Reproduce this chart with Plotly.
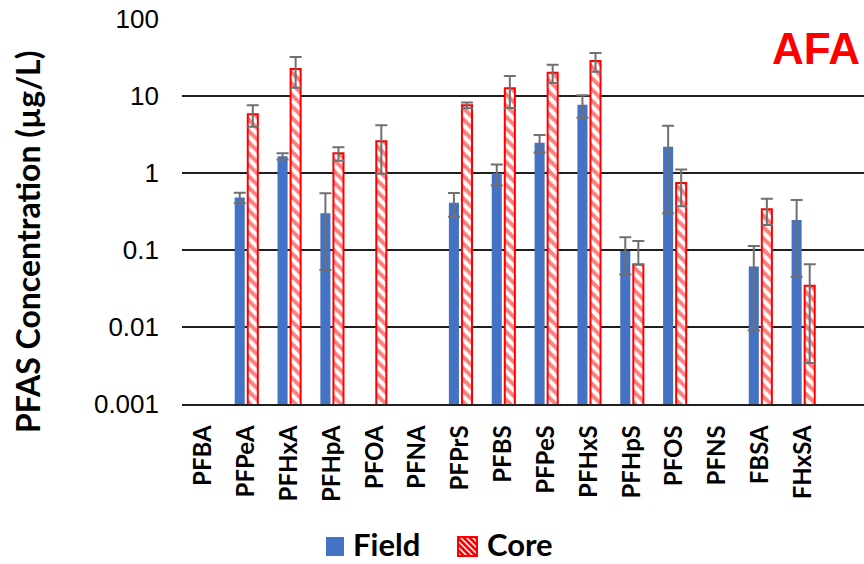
import plotly.graph_objects as go

# PFAS analytes on the x axis
categories = ["PFBA", "PFPeA", "PFHxA", "PFHpA", "PFOA", "PFNA", "PFPrS", "PFBS",
              "PFPeS", "PFHxS", "PFHpS", "PFOS", "PFNS", "FBSA", "FHxSA"]

# Mean concentrations (µg/L) and standard deviations; None = not detected
field = [None, 0.48, 1.65, 0.30, None, None, 0.41, 0.99, 2.48, 7.7, 0.097, 2.2, None, 0.061, 0.245]
field_sd = [None, 0.075, 0.155, 0.245, None, None, 0.14, 0.30, 0.64, 2.5, 0.049, 1.9, None, 0.052, 0.20]

core = [None, 5.8, 22.4, 1.8, 2.58, None, 7.6, 12.6, 20.1, 28.5, 0.065, 0.74, None, 0.337, 0.0344]
core_sd = [None, 1.8, 9.6, 0.36, 1.6, None, 0.65, 5.6, 5.4, 7.8, 0.066, 0.37, None, 0.126, 0.031]

y_ticks = [0.001, 0.01, 0.1, 1, 10, 100]
y_tick_text = ["0.001", "0.01", "0.1", "1", "10", "100"]

FIELD_BLUE = "#4472C4"
CORE_RED = "#FF0000"

# figure geometry (pixels)
W, H = 864, 564
L, R, T, B = 182, 0, 19, 160
PW, PH = W - L - R, H - T - B


def px(x):
    return (x - L) / PW


def py(y):
    return (H - B - y) / PH


def lower_err(vals, sds):
    # on a log axis the minus bar is dropped when it would reach zero or below
    out = []
    for v, s in zip(vals, sds):
        if v is None:
            out.append(None)
        elif s >= v:
            out.append(0)
        else:
            out.append(s)
    return out


err_style = dict(type="data", color="#707070", thickness=2, width=6)

fig = go.Figure()
fig.add_trace(go.Bar(
    name="Field", x=categories, y=field,
    marker=dict(color=FIELD_BLUE, line=dict(width=0)),
    error_y=dict(array=field_sd, arrayminus=lower_err(field, field_sd), **err_style),
))
fig.add_trace(go.Bar(
    name="Core", x=categories, y=core,
    marker=dict(color="white", line=dict(color=CORE_RED, width=2),
                pattern=dict(shape="\\", fgcolor=CORE_RED, bgcolor="white",
                             size=8, solidity=0.5)),
    error_y=dict(array=core_sd, arrayminus=lower_err(core, core_sd), **err_style),
))

# legend drawn as shapes + text below the plot
shapes = []
annotations = []
legend_font = dict(family="Lato", size=31, weight="bold", color="black")

fx0, fy0, fx1, fy1 = 326, 537, 344, 556
shapes.append(dict(type="rect", xref="paper", yref="paper",
                   x0=px(fx0), x1=px(fx1), y0=py(fy1), y1=py(fy0),
                   fillcolor=FIELD_BLUE, line=dict(width=0), layer="above"))
annotations.append(dict(text="Field", xref="paper", yref="paper", x=px(351), y=py(544),
                        xanchor="left", yanchor="middle", showarrow=False,
                        font=legend_font))

cx0, cy0, cx1, cy1 = 458, 537, 477, 556
w, h = cx1 - cx0, cy1 - cy0
c = -h
while c < w:
    u0, u1 = max(0, c), min(w, h + c)
    if u1 > u0:
        shapes.append(dict(type="line", xref="paper", yref="paper",
                           x0=px(cx0 + u0), y0=py(cy0 + u0 - c),
                           x1=px(cx0 + u1), y1=py(cy0 + u1 - c),
                           line=dict(color=CORE_RED, width=2.6), layer="above"))
    c += 6
shapes.append(dict(type="rect", xref="paper", yref="paper",
                   x0=px(cx0), x1=px(cx1), y0=py(cy1), y1=py(cy0),
                   fillcolor="rgba(0,0,0,0)", line=dict(color=CORE_RED, width=2),
                   layer="above"))
annotations.append(dict(text="Core", xref="paper", yref="paper", x=px(485), y=py(544),
                        xanchor="left", yanchor="middle", showarrow=False,
                        font=legend_font))

annotations.append(dict(text="PFAS Concentration (µg/L)", xref="paper", yref="paper",
                        x=px(27), y=py(242), textangle=-90, showarrow=False,
                        xanchor="center", yanchor="middle",
                        font=dict(family="Lato", size=32, weight="bold", color="black")))
annotations.append(dict(text="AFA", xref="paper", yref="paper", x=px(816), y=py(48),
                        showarrow=False, xanchor="center", yanchor="middle",
                        font=dict(family="Liberation Sans, Arial", size=44, weight="bold",
                                  color=CORE_RED)))

fig.update_layout(
    width=W, height=H,
    margin=dict(l=L, r=R, t=T, b=B),
    paper_bgcolor="white", plot_bgcolor="white",
    barmode="group", bargap=0.39, bargroupgap=0.23,
    showlegend=False,
    shapes=shapes,
    annotations=annotations,
)

fig.update_yaxes(
    type="log", range=[-3, 2],
    tickvals=y_ticks, ticktext=y_tick_text,
    showgrid=True, gridcolor="#1f1f1f", gridwidth=1.5,
    zeroline=False, showline=False, ticks="",
    ticklabelstandoff=22,
    tickfont=dict(family="Liberation Sans, Arial", size=26, color="black"),
)
fig.update_xaxes(
    range=[-0.5, 15.42], tickangle=-90,
    showline=True, linecolor="#1f1f1f", linewidth=1.5, ticks="",
    showgrid=False, ticklabelstandoff=10,
    tickfont=dict(family="Lato", size=24, weight="bold", color="black"),
)

fig.write_html("out.html")
